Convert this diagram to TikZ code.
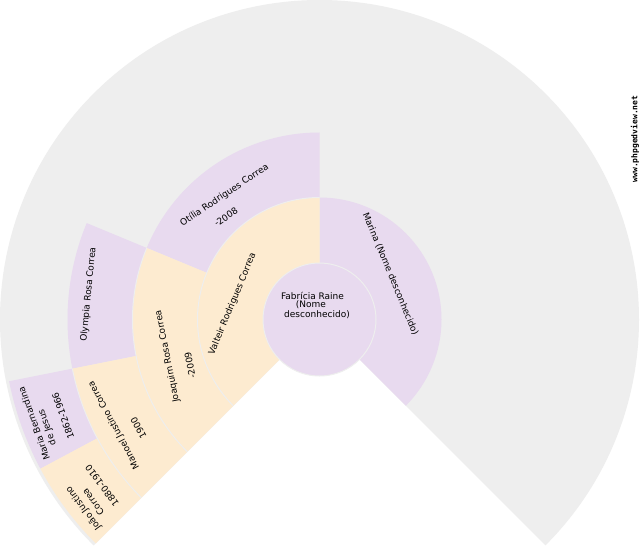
\documentclass[tikz,border=0pt]{standalone}
\usepackage{fontspec}
\setmainfont{DejaVu Sans}
\newfontfamily\wmfont{DejaVu Sans Mono}
\definecolor{ggray}{HTML}{EEEEEE}
\definecolor{gpurple}{HTML}{E8DAEF}
\definecolor{gyellow}{HTML}{FDEBD0}
\newcommand{\sectorfill}[5]{%
  \fill[#5,shift={(319.5,230.5)}] (#1:#3) arc[start angle=#1,end angle=#2,radius=#3]
    -- (#2:#4) arc[start angle=#2,end angle=#1,radius=#4] -- cycle;}
\newcommand{\ringline}[3]{%
  \draw[ringedge,shift={(319.5,230.5)}] (#1:#3) arc[start angle=#1,end angle=#2,radius=#3];}
\newcommand{\lbl}[5]{\node[persontext,rotate=#4] (#1) at (#2,{550-#3}) {#5};}
\begin{document}
\begin{tikzpicture}[x=1pt,y=1pt,
  persontext/.style={inner sep=0pt,font=\fontsize{9}{10}\selectfont,text=black},
  ringedge/.style={draw=ggray,line width=1pt}]
\useasboundingbox (0,0) rectangle (640,550);
\fill[white] (0,0) rectangle (640,550);
% outer grey ring
\sectorfill{-45}{225}{56}{319.5}{ggray}
% ring 1
\sectorfill{-45}{90}{56}{122}{gpurple}
\sectorfill{90}{225}{56}{122}{gyellow}
% ring 2
\sectorfill{90}{157.5}{122}{187}{gpurple}
\sectorfill{157.5}{225}{122}{187}{gyellow}
% ring 3
\sectorfill{157.5}{191.25}{187}{252}{gpurple}
\sectorfill{191.25}{225}{187}{252}{gyellow}
% ring 4
\sectorfill{191.25}{208.125}{252}{316.5}{gpurple}
\sectorfill{208.125}{225}{252}{316.5}{gyellow}
% ring separators
\ringline{90}{225}{122}
\ringline{157.5}{225}{187}
\ringline{191.25}{225}{252}
% centre
\node[circle,fill=gpurple,draw=ggray,line width=1pt,minimum size=113pt,inner sep=0pt] (centre) at (319.5,230.5) {};
% labels
\lbl{f1}{312.5}{296}{0}{Fabrícia Raine}
\lbl{f2}{311}{305}{0}{(Nome}
\lbl{f3}{317}{315}{0}{desconhecido)}
\lbl{marina}{390.5}{274}{-67.5}{Marina (Nome desconhecido)}
\lbl{valteir}{232.5}{304}{67.5}{Valteir Rodrigues Correa}
\lbl{otilia}{224.5}{195}{33.75}{Otília Rodrigues Correa}
\lbl{otiliad}{226}{217}{33.75}{-2008}
\lbl{joaquim}{167.5}{356.5}{101.25}{Joaquim Rosa Correa}
\lbl{joaquimd}{190}{365}{101.25}{-2009}
\lbl{olympia}{88.5}{294.5}{84.4}{Olympia Rosa Correa}
\lbl{manoel}{114}{425}{118.1}{Manoel Justino Correa}
\lbl{manoeld}{138.5}{428}{118.1}{1900}
\lbl{maria}{34}{423.5}{109.7}{Maria Bernardina}
\lbl{mariab}{47.5}{427.5}{109.7}{de Jesus}
\lbl{mariad}{63}{416}{109.7}{1862-1966}
\lbl{joao}{83.5}{508.5}{126.6}{João Justino}
\lbl{joaob}{93}{502}{126.6}{Correa}
\lbl{joaod}{102}{485.5}{126.6}{1880-1910}
% watermark
\node[inner sep=0pt,rotate=90,font=\wmfont\bfseries\fontsize{8}{9}\selectfont,text=black] (wm) at (635,{550-139}) {www.phpgedview.net};
\end{tikzpicture}
\end{document}
